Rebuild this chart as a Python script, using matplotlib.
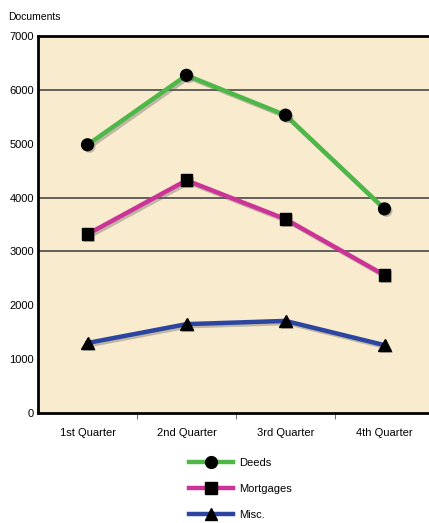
import matplotlib
matplotlib.use("Agg")
import matplotlib.pyplot as plt
import matplotlib.patheffects as pe
from matplotlib.lines import Line2D

# Data
quarters = ["1st Quarter", "2nd Quarter", "3rd Quarter", "4th Quarter"]
deeds = [4980, 6270, 5530, 3790]
mortgages = [3320, 4320, 3600, 2560]
misc = [1300, 1650, 1710, 1260]
y_ticks = [0, 1000, 2000, 3000, 4000, 5000, 6000, 7000]
grid_values = [3000, 4000, 6000]
series_names = ["Deeds", "Mortgages", "Misc."]

plt.rcParams['font.family'] = ['Liberation Sans', 'DejaVu Sans']

W, H = 429, 523
fig = plt.figure(figsize=(W / 100, H / 100), dpi=100)

# axes runs past the right edge of the figure, like the reference
left, top, bottom = 38, 36, 413
right = 38 + 4 * 99
ax = fig.add_axes([left / W, (H - bottom) / H, (right - left) / W, (bottom - top) / H])
ax.set_facecolor("#F8EBCE")

x = list(range(len(quarters)))
line_shadow = [pe.SimpleLineShadow(offset=(1.5, -1.5), shadow_color='#555555', alpha=0.35), pe.Normal()]
mark_shadow = [pe.SimplePatchShadow(offset=(1.5, -1.5), shadow_rgbFace='#555555', alpha=0.35), pe.Normal()]

for gv in grid_values:
    ax.axhline(gv, color="#3a3a3a", lw=1.1, zorder=1)

styles = [
    (deeds, "#4DB848", "o", 8.5),
    (mortgages, "#CC3399", "s", 8.5),
    (misc, "#2B45A0", "^", 9),
]
for vals, col, mk, ms in styles:
    ax.plot(x, vals, color=col, lw=3.2, zorder=2, path_effects=line_shadow)
    ax.plot(x, vals, ls="none", marker=mk, ms=ms, color="black", zorder=3,
            path_effects=mark_shadow)

ax.set_xlim(-0.5, 3.5)
ax.set_ylim(0, 7000)
ax.set_yticks(y_ticks)
ax.set_yticklabels([str(v) for v in y_ticks], fontsize=8)
ax.set_xticks([0.5, 1.5, 2.5])
ax.set_xticklabels([])
ax.set_xticks(x, minor=True)
ax.set_xticklabels(quarters, minor=True, fontsize=8)
ax.tick_params(axis="x", which="major", length=4, width=0.6, color="#555555")
ax.tick_params(axis="x", which="minor", length=0, pad=11)
ax.tick_params(axis="y", length=0, pad=3)

for s in ["left", "bottom", "top"]:
    ax.spines[s].set_linewidth(2)
    ax.spines[s].set_color("black")
ax.spines["right"].set_visible(False)

fig.text(8 / W, 1 - 17 / H, "Documents", fontsize=7.5, va="center", ha="left")

handles = []
for (vals, col, mk, ms), name in zip(styles, series_names):
    handles.append(Line2D([0], [0], color=col, lw=3.2, marker=mk, ms=ms,
                          markerfacecolor="black", markeredgecolor="black"))
fig.legend(handles, series_names, loc="center", bbox_to_anchor=(240 / W, 1 - 489 / H),
           frameon=False, fontsize=8, handlelength=4.0, labelspacing=1.45,
           handletextpad=0.5)

fig.savefig("out.png", dpi=100)
